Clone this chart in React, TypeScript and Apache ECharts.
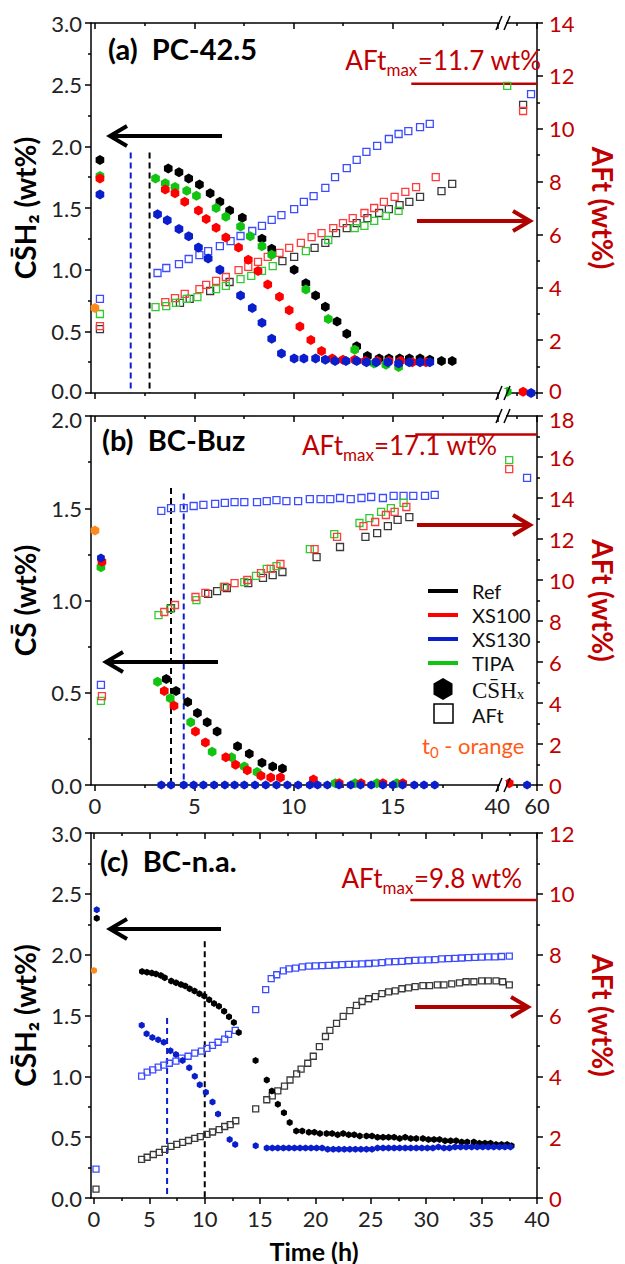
import React, { useEffect, useRef } from "react";
import * as echarts from "echarts";

type Pt = [number, number];

// ---------------- Panel (a) PC-42.5 ----------------
const aT0Csh: Pt[] = [[0, 0.69]];
const aRefCsh: Pt[] = [[0.25,1.89],[3.69,1.82],[4.23,1.79],[4.72,1.74],[5.26,1.69],[5.80,1.62],[6.29,1.55],[6.78,1.48],[7.42,1.42],[8.41,1.25],[8.90,1.17],[10.03,1.00],[10.62,0.89],[11.11,0.79],[11.60,0.70],[12.19,0.58],[12.68,0.48],[13.18,0.38],[13.72,0.30],[14.31,0.28],[14.80,0.28],[15.34,0.28],[15.83,0.28],[16.37,0.28],[16.86,0.27],[17.45,0.26],[17.99,0.26]];
const aXs100Csh: Pt[] = [[0.25,1.74],[3.54,1.65],[4.03,1.62],[4.52,1.55],[5.21,1.48],[5.60,1.41],[6.10,1.34],[6.59,1.26],[7.23,1.18],[7.72,1.08],[8.21,0.99],[8.70,0.88],[9.29,0.78],[9.78,0.67],[10.32,0.54],[10.87,0.43],[11.41,0.34],[11.95,0.28],[12.49,0.27],[13.08,0.27],[13.62,0.26],[14.21,0.26],[14.80,0.26],[15.39,0.26],[15.98,0.25],[16.67,0.25],[53,0.01]];
const aXs130Csh: Pt[] = [[0.25,1.61],[3.15,1.45],[3.64,1.40],[4.23,1.33],[4.72,1.27],[5.21,1.18],[5.70,1.09],[6.29,1.00],[7.33,0.79],[7.92,0.69],[8.41,0.57],[8.90,0.44],[9.39,0.32],[10.03,0.28],[10.52,0.28],[11.11,0.28],[11.60,0.27],[12.09,0.26],[12.64,0.26],[13.18,0.26],[13.67,0.25],[14.16,0.25],[14.75,0.25],[15.29,0.24],[15.83,0.25],[16.37,0.25],[16.86,0.25],[57,0.0]];
const aTipaCsh: Pt[] = [[0.25,1.76],[3.05,1.74],[3.54,1.70],[4.03,1.67],[4.62,1.64],[5.11,1.60],[6.10,1.50],[6.59,1.43],[7.33,1.35],[7.82,1.27],[8.41,1.19],[8.90,1.12],[10.62,0.84],[11.75,0.60],[13.08,0.35],[14.06,0.24],[14.65,0.23],[15.29,0.21],[45,0.01]];
const aRefAft: Pt[] = [[0.25,2.42],[4.28,3.41],[4.77,3.56],[5.80,3.86],[6.78,4.20],[9.44,4.99],[10.03,5.15],[11.06,5.49],[11.60,5.68],[12.14,6.05],[12.68,6.24],[13.18,6.43],[13.72,6.62],[14.31,6.81],[14.80,6.96],[15.34,7.11],[15.83,7.23],[16.37,7.42],[17.45,7.64],[17.99,7.91],[53,10.90]];
const aXs100Aft: Pt[] = [[0.25,2.53],[3.54,3.44],[4.03,3.59],[4.52,3.75],[5.26,3.93],[5.60,4.09],[6.10,4.24],[6.59,4.39],[7.23,4.65],[7.72,4.77],[8.21,4.96],[8.70,5.15],[9.29,5.30],[9.78,5.49],[10.37,5.68],[10.91,5.90],[11.41,6.05],[12.00,6.24],[12.49,6.43],[12.98,6.62],[13.57,6.81],[14.06,7.00],[14.55,7.23],[15.09,7.42],[15.63,7.61],[16.17,7.79],[17.16,8.17],[53,10.67]];
const aXs130Aft: Pt[] = [[0.25,3.56],[3.15,4.54],[3.59,4.73],[4.23,4.88],[4.72,5.07],[5.26,5.22],[5.70,5.37],[6.29,5.56],[6.83,5.75],[7.33,5.94],[7.92,6.13],[8.41,6.32],[8.90,6.55],[9.39,6.73],[10.03,6.96],[10.52,7.23],[11.01,7.45],[11.60,7.76],[12.09,8.17],[12.68,8.51],[13.18,8.82],[13.67,9.12],[14.21,9.35],[14.80,9.61],[15.29,9.80],[15.78,9.91],[16.37,10.06],[16.86,10.18],[57,11.31]];
const aTipaAft: Pt[] = [[0.25,2.99],[3.05,3.25],[3.59,3.29],[4.08,3.41],[4.62,3.56],[5.16,3.63],[6.10,3.93],[6.59,4.05],[7.33,4.31],[7.87,4.43],[8.41,4.62],[8.95,4.80],[10.62,5.37],[11.75,5.79],[13.08,6.24],[13.57,6.32],[14.06,6.51],[14.65,6.70],[15.29,6.89],[45,11.62]];
const aDashXs130: Pt[] = [[1.8,1.95],[1.8,0]];
const aDashRef: Pt[] = [[2.75,1.95],[2.75,0]];
const aAftMax = 11.7;
const aAftMaxFrom = 15.93;

// ---------------- Panel (b) BC-Buz ----------------
const bT0Csh: Pt[] = [[0, 1.38]];
const bRefCsh: Pt[] = [[3.59,0.575],[4.08,0.51],[4.67,0.45],[5.16,0.39],[5.65,0.34],[6.15,0.29],[7.18,0.21],[7.77,0.17],[8.41,0.12],[8.95,0.10],[9.44,0.09]];
const bXs100Csh: Pt[] = [[0.35,1.21],[3.49,0.51],[3.98,0.43],[5.06,0.29],[5.56,0.23],[6.59,0.15],[7.08,0.11],[7.67,0.08],[8.36,0.05],[8.85,0.04],[9.34,0.04],[11.0,0.03],[12.3,0.01],[13.4,0.01],[14.5,0.01],[15.5,0.01],[46,0.01]];
const bXs130Csh: Pt[] = [[0.3,1.23],[3.34,0],[3.83,0],[4.47,0],[4.97,0],[5.46,0],[6.0,0],[6.54,0],[7.03,0],[7.52,0],[8.06,0],[8.6,0],[9.14,0],[9.69,0],[10.23,0],[10.82,0],[11.21,0],[11.70,0],[12.29,0],[12.88,0],[13.37,0],[13.91,0],[14.5,0],[15.0,0],[15.49,0],[16.08,0],[16.57,0],[17.11,0],[55,0]];
const bTipaCsh: Pt[] = [[0.3,1.18],[3.15,0.56],[3.79,0.47],[4.82,0.34],[5.90,0.18],[6.88,0.15],[7.52,0.10],[8.16,0.07],[12.1,0.01],[13.1,0.01],[14.2,0.01],[15.2,0.01]];
const bRefAft: Pt[] = [[3.83,8.63],[5.70,9.32],[6.15,9.46],[6.64,9.61],[7.72,9.85],[8.46,10.10],[8.95,10.24],[9.44,10.39],[11.16,11.12],[12.34,11.61],[13.62,12.10],[14.21,12.29],[14.75,12.63],[15.24,12.93],[15.83,13.07]];
const bXs100Aft: Pt[] = [[0.35,4.34],[3.49,8.44],[4.03,8.78],[5.06,9.17],[5.56,9.37],[6.54,9.66],[7.03,9.85],[7.67,10.0],[8.36,10.34],[8.85,10.54],[9.34,10.78],[11.06,11.51],[12.19,12.10],[13.52,12.63],[14.11,12.83],[14.65,13.17],[15.09,13.32],[15.68,13.56],[46,15.41]];
const bXs130Aft: Pt[] = [[0.3,4.88],[3.34,13.37],[3.83,13.51],[4.47,13.51],[4.97,13.61],[5.46,13.66],[6.05,13.71],[6.54,13.76],[7.03,13.80],[7.52,13.80],[8.16,13.80],[8.65,13.85],[9.14,13.90],[9.64,13.85],[10.23,13.85],[10.82,13.95],[11.36,13.95],[11.85,13.95],[12.34,14.00],[12.88,13.95],[13.42,14.00],[13.91,14.05],[14.50,14.00],[15.04,14.10],[15.54,14.10],[16.03,14.10],[16.62,14.10],[17.11,14.15],[55,14.98]];
const bTipaAft: Pt[] = [[0.3,4.10],[3.2,8.29],[3.79,8.59],[5.11,9.02],[6.49,9.66],[7.52,9.90],[8.11,10.2],[8.65,10.54],[9.14,10.68],[10.82,11.51],[12.05,12.24],[13.32,12.78],[13.82,13.02],[14.41,13.32],[14.90,13.51],[15.54,13.76],[46,15.85]];
const bDashRef: Pt[] = [[3.83,1.61],[3.83,0]];
const bDashXs130: Pt[] = [[4.47,1.58],[4.47,0]];
const bAftMax = 17.1;
const bAftMaxFrom = 16.13;

// ---------------- Panel (c) BC-n.a. ----------------
const cT0Csh: Pt[] = [[0, 1.87]];
const cRefCsh: Pt[] = [[0.25,2.30],[4.34,1.861],[4.78,1.856],[5.22,1.85],[5.60,1.842],[6.04,1.829],[6.39,1.81],[6.97,1.783],[7.41,1.769],[7.85,1.755],[8.24,1.742],[8.64,1.72],[9.08,1.701],[9.52,1.679],[9.96,1.66],[10.40,1.63],[10.84,1.598],[11.28,1.576],[11.75,1.535],[12.19,1.489],[12.63,1.443],[13.07,1.361],[14.59,1.13],[15.6,0.97],[16.06,0.88],[16.6,0.77],[17.15,0.70],[17.67,0.62],[18.26,0.55],[18.8,0.55],[19.4,0.54],[19.9,0.54],[20.4,0.53],[21.0,0.53],[21.5,0.53],[22.0,0.52],[22.5,0.53],[23.0,0.52],[23.5,0.52],[24.0,0.51],[24.6,0.51],[25.1,0.51],[25.6,0.50],[26.1,0.50],[26.6,0.50],[27.1,0.50],[27.6,0.49],[28.1,0.50],[28.6,0.49],[29.1,0.49],[29.7,0.49],[30.2,0.48],[30.7,0.48],[31.2,0.48],[31.7,0.47],[32.2,0.47],[32.7,0.47],[33.2,0.46],[33.7,0.46],[34.3,0.46],[34.8,0.45],[35.3,0.45],[35.8,0.45],[36.3,0.44],[36.8,0.44],[37.3,0.44],[37.7,0.43]];
const cXs130Csh: Pt[] = [[0.25,2.37],[4.31,1.42],[4.75,1.35],[5.27,1.32],[5.8,1.30],[6.3,1.28],[6.9,1.21],[7.4,1.18],[8.0,1.13],[8.6,1.07],[9.1,1.00],[9.55,0.93],[10.1,0.87],[10.7,0.79],[11.2,0.69],[12.25,0.48],[12.75,0.44],[14.6,0.43],[15.6,0.41],[16.1,0.41],[16.6,0.41],[17.1,0.41],[17.6,0.41],[18.1,0.41],[18.6,0.41],[19.1,0.41],[19.6,0.41],[20.1,0.41],[20.6,0.41],[21.1,0.40],[21.6,0.40],[22.1,0.40],[22.6,0.40],[23.1,0.40],[23.6,0.40],[24.1,0.40],[24.6,0.40],[25.1,0.40],[25.6,0.41],[26.1,0.41],[26.6,0.41],[27.1,0.41],[27.6,0.41],[28.1,0.41],[28.6,0.41],[29.1,0.41],[29.6,0.41],[30.1,0.41],[30.6,0.41],[31.1,0.42],[31.6,0.41],[32.1,0.41],[32.6,0.42],[33.1,0.42],[33.6,0.42],[34.1,0.42],[34.6,0.42],[35.1,0.42],[35.6,0.42],[36.1,0.42],[36.6,0.42],[37.1,0.42],[37.6,0.42]];
const cRefAft: Pt[] = [[0.18,0.29],[4.3,1.27],[4.8,1.34],[5.36,1.43],[5.9,1.50],[6.4,1.60],[6.95,1.70],[7.47,1.76],[8.0,1.83],[8.53,1.89],[9.1,1.96],[9.6,2.02],[10.2,2.09],[10.7,2.17],[11.3,2.25],[11.8,2.35],[12.3,2.41],[12.8,2.54],[14.6,2.93],[15.6,3.23],[16.1,3.36],[16.6,3.52],[17.2,3.68],[17.7,3.88],[18.3,4.08],[18.7,4.24],[19.3,4.43],[19.8,4.66],[20.35,4.98],[20.9,5.31],[21.3,5.51],[21.9,5.74],[22.5,5.97],[23.1,6.16],[23.7,6.33],[24.2,6.46],[24.8,6.55],[25.4,6.62],[26.0,6.72],[26.6,6.78],[27.2,6.81],[27.8,6.88],[28.4,6.91],[29.0,6.95],[29.7,6.98],[30.3,6.98],[31.0,7.01],[31.6,7.01],[32.3,7.04],[33.0,7.07],[33.6,7.11],[34.3,7.11],[35.0,7.14],[35.6,7.14],[36.3,7.14],[36.9,7.11],[37.5,7.01]];
const cXs130Aft: Pt[] = [[0.18,0.95],[4.3,4.01],[4.8,4.14],[5.3,4.21],[5.8,4.30],[6.3,4.37],[6.8,4.43],[7.4,4.50],[7.9,4.60],[8.5,4.66],[9.1,4.76],[9.7,4.83],[10.2,4.92],[10.7,5.02],[11.2,5.12],[11.8,5.22],[12.15,5.38],[12.75,5.51],[14.6,6.19],[15.5,6.85],[16.0,7.21],[16.5,7.34],[17.1,7.47],[17.6,7.53],[18.2,7.56],[18.8,7.60],[19.4,7.62],[20.0,7.63],[20.6,7.64],[21.2,7.65],[21.8,7.66],[22.4,7.67],[23.0,7.68],[23.6,7.69],[24.2,7.70],[24.8,7.71],[25.4,7.72],[26.0,7.74],[26.6,7.76],[27.2,7.77],[27.8,7.78],[28.4,7.80],[29.0,7.81],[29.6,7.82],[30.2,7.83],[30.8,7.84],[31.4,7.86],[32.0,7.87],[32.6,7.88],[33.2,7.89],[33.8,7.90],[34.4,7.91],[35.0,7.92],[35.6,7.93],[36.2,7.93],[36.8,7.94],[37.5,7.95]];
const cDashXs130: Pt[] = [[6.6,1.48],[6.6,0]];
const cDashRef: Pt[] = [[10.0,2.11],[10.0,0]];
const cAftMax = 9.8;
const cAftMaxFrom = 28.57;

// ---------------- axis ticks ----------------
const abMajorTimes = [0, 5, 10, 15, 40, 60];
const abMinorTimes = [2.5, 7.5, 12.5, 17.5, 50];
const cMajorTimes = [0, 5, 10, 15, 20, 25, 30, 35, 40];
const cMinorTimes = [2.5, 7.5, 12.5, 17.5, 22.5, 27.5, 32.5, 37.5];

// broken time axis of panels (a) and (b)
const BREAK_FROM = 20;
const BREAK_TO = 40;
const BREAK_AT = 20.26;
const BREAK_SCALE = 0.1;
const tBreak = (t: number) => (t <= BREAK_FROM ? t : BREAK_AT + (t - BREAK_TO) * BREAK_SCALE);
const tBreakInv = (v: number) => (v <= BREAK_FROM + 0.01 ? v : BREAK_TO + (v - BREAK_AT) / BREAK_SCALE);
const tId = (t: number) => t;

const AB_MIN = -0.2;
const AB_MAX = tBreak(60);
const C_MIN = -0.27;
const C_MAX = 40;

const FONT = 'Lato, "Open Sans", sans-serif';
const DARKRED = "#c00000";
const COL = { ref: "#000000", xs100: "#ff0000", xs130: "#0a1ecc", tipa: "#12c412", orange: "#ff8a1c" };
const SQ = { ref: "#3a3a3a", xs100: "#ff3b3b", xs130: "#3b4cff", tipa: "#2ecc2e" };
const HEX = "path://M0,-10L8.66,-5L8.66,5L0,10L-8.66,5L-8.66,-5Z";
const AX = { color: "#000", width: 1.5 };

function hexSeries(data: Pt[], color: string, g: number, size: number, tf: (t: number) => number) {
  return {
    type: "scatter", xAxisIndex: g * 4, yAxisIndex: g * 2, clip: false, z: 3,
    symbol: HEX, symbolKeepAspect: true, symbolSize: size,
    itemStyle: { color, opacity: 1 },
    data: data.map(([t, v]) => [tf(t), v]),
  };
}
function sqSeries(data: Pt[], color: string, g: number, size: number, tf: (t: number) => number) {
  return {
    type: "scatter", xAxisIndex: g * 4, yAxisIndex: g * 2 + 1, clip: false, z: 2,
    symbol: "rect", symbolSize: size,
    itemStyle: { color: "rgba(255,255,255,0)", borderColor: color, borderWidth: 1.3, opacity: 1 },
    data: data.map(([t, v]) => [tf(t), v]),
  };
}
function dashSeries(data: Pt[], color: string, g: number) {
  return {
    type: "line", xAxisIndex: g * 4, yAxisIndex: g * 2, symbol: "none", z: 1,
    lineStyle: { color, width: 2, type: [6, 4] }, data,
  };
}
function aftMaxSeries(v: number, from: number, to: number, g: number) {
  return {
    type: "line", xAxisIndex: g * 4, yAxisIndex: g * 2 + 1, symbol: "none", z: 1,
    lineStyle: { color: DARKRED, width: 2.5 }, data: [[from, v], [to, v]],
  };
}

function xAxesFor(g: number, min: number, max: number, majors: number[], minors: number[], showLabels: boolean, fmt: (v: number) => string, name: string) {
  const common = { gridIndex: g, type: "value", min, max, splitLine: { show: false } };
  return [
    {
      ...common, position: "bottom",
      axisLine: { show: true, onZero: false, lineStyle: AX },
      axisTick: { show: true, customValues: majors, length: 6, lineStyle: AX },
      axisLabel: { show: showLabels, customValues: majors, formatter: fmt, fontSize: 22, lineHeight: 20, fontFamily: FONT, color: "#222", margin: 10 },
      name, nameLocation: "middle", nameGap: 40,
      nameTextStyle: { fontSize: 25, fontWeight: "bold", fontFamily: FONT, color: "#000" },
    },
    {
      ...common, position: "top",
      axisLine: { show: true, onZero: false, lineStyle: AX },
      axisTick: { show: true, inside: true, customValues: majors, length: 6, lineStyle: AX },
      axisLabel: { show: false },
    },
    {
      ...common, position: "bottom",
      axisLine: { show: false, onZero: false },
      axisTick: { show: true, customValues: minors, length: 3, lineStyle: AX },
      axisLabel: { show: false },
    },
    {
      ...common, position: "top",
      axisLine: { show: false, onZero: false },
      axisTick: { show: true, inside: true, customValues: minors, length: 3, lineStyle: AX },
      axisLabel: { show: false },
    },
  ];
}

// shift: 'lo' nudges the 0 label up, 'hi' nudges the top label down (panels touch)
function yAxesFor(g: number, lmax: number, rmax: number, lname: string, shift: "lo" | "hi" | "") {
  const rich = { lo: { padding: [0, 0, 6, 0] }, hi: { padding: [6, 0, 0, 0] } };
  const wrap = (v: number, max: number, s: string) => {
    if (shift === "lo" && v === 0) return `{lo|${s}}`;
    if (shift === "hi" && Math.abs(v - max) < 1e-9) return `{hi|${s}}`;
    return s;
  };
  return [
    {
      gridIndex: g, type: "value", position: "left", min: 0, max: lmax, interval: 0.5,
      axisLine: { show: true, onZero: false, lineStyle: AX },
      axisTick: { show: true, length: 6, lineStyle: AX },
      minorTick: { show: true, splitNumber: 2, length: 3, lineStyle: AX },
      axisLabel: { fontSize: 22, lineHeight: 18, fontFamily: FONT, color: "#222", margin: 9, rich, formatter: (v: number) => wrap(v, lmax, v.toFixed(1)) },
      splitLine: { show: false },
      name: lname, nameLocation: "middle", nameGap: 52, nameRotate: 90,
      nameTextStyle: { fontSize: 28, lineHeight: 28, fontWeight: "bold", fontFamily: FONT, color: "#000" },
    },
    {
      gridIndex: g, type: "value", position: "right", min: 0, max: rmax, interval: 2,
      axisLine: { show: true, onZero: false, lineStyle: AX },
      axisTick: { show: true, length: 6, lineStyle: AX },
      minorTick: { show: true, splitNumber: 2, length: 3, lineStyle: AX },
      axisLabel: { fontSize: 22, lineHeight: 18, fontFamily: FONT, color: DARKRED, margin: 12, rich, formatter: (v: number) => wrap(v, rmax, String(v)) },
      splitLine: { show: false },
      name: "AFt (wt%)", nameLocation: "middle", nameGap: 52, nameRotate: -90,
      nameTextStyle: { fontSize: 28, lineHeight: 28, fontWeight: "bold", fontFamily: FONT, color: DARKRED },
    },
  ];
}

function arrow(tail: number, tip: number, y: number, color: string) {
  const d = tip < tail ? 1 : -1;
  return [
    { type: "line", shape: { x1: tail, y1: y, x2: tip + d * 2, y2: y }, style: { stroke: color, lineWidth: 4 }, z: 50 },
    { type: "polyline", shape: { points: [[tip + d * 17, y - 10], [tip, y], [tip + d * 17, y + 10]] }, style: { stroke: color, lineWidth: 4, fill: null }, z: 50 },
  ];
}
function brk(x: number, y: number) {
  return [
    { type: "rect", shape: { x: x - 3, y: y - 4, width: 6, height: 8 }, style: { fill: "#fff" }, z: 100 },
    { type: "line", shape: { x1: x - 7, y1: y + 7, x2: x - 1, y2: y - 7 }, style: { stroke: "#000", lineWidth: 1.5 }, z: 101 },
    { type: "line", shape: { x1: x + 1, y1: y + 7, x2: x + 7, y2: y - 7 }, style: { stroke: "#000", lineWidth: 1.5 }, z: 101 },
  ];
}
function title(x: number, y: number, text: string) {
  return { type: "text", x, y, z: 60, style: { text, font: `bold 29px ${FONT}`, fill: "#000", verticalAlign: "middle", align: "left" } };
}
function aftMaxText(x: number, y: number, val: string, align: string) {
  return {
    type: "text", x, y, z: 60,
    style: {
      text: `{a|AFt}{s|max}{a|=${val} wt%}`, align, verticalAlign: "middle",
      rich: {
        a: { fontSize: 26, fontFamily: FONT, fill: DARKRED, color: DARKRED, lineHeight: 36, verticalAlign: "middle" },
        s: { fontSize: 17, fontFamily: FONT, fill: DARKRED, color: DARKRED, lineHeight: 17, verticalAlign: "bottom" },
      },
    },
  };
}
function hexagon(cx: number, cy: number, r: number) {
  const k = 0.866 * r;
  return {
    type: "polygon", z: 60,
    shape: { points: [[cx, cy - r], [cx + k, cy - r / 2], [cx + k, cy + r / 2], [cx, cy + r], [cx - k, cy + r / 2], [cx - k, cy - r / 2]] },
    style: { fill: "#000" },
  };
}

function legend() {
  const rows: [string, string, number][] = [["Ref", COL.ref, 591], ["XS100", COL.xs100, 615], ["XS130", COL.xs130, 639], ["TIPA", COL.tipa, 663]];
  const els: any[] = [];
  rows.forEach(([label, color, y]) => {
    els.push({ type: "line", shape: { x1: 428, y1: y, x2: 458, y2: y }, style: { stroke: color, lineWidth: 4 }, z: 60 });
    els.push({ type: "text", x: 472, y, z: 60, style: { text: label, font: `20px ${FONT}`, fill: "#111", verticalAlign: "middle" } });
  });
  els.push(hexagon(443, 689, 11));
  els.push({
    type: "text", x: 472, y: 690, z: 60,
    style: {
      text: "{a|CS\u0304H}{s|x}", verticalAlign: "middle",
      rich: {
        a: { fontSize: 23, fontFamily: '"Liberation Serif", serif', fill: "#111", lineHeight: 22, verticalAlign: "middle" },
        s: { fontSize: 15, fontFamily: '"Liberation Serif", serif', fill: "#111", lineHeight: 12, verticalAlign: "bottom" },
      },
    },
  });
  els.push({ type: "rect", shape: { x: 434, y: 704, width: 19, height: 19 }, style: { fill: "#fff", stroke: "#000", lineWidth: 1.5 }, z: 60 });
  els.push({ type: "text", x: 472, y: 715, z: 60, style: { text: "AFt", font: `20px ${FONT}`, fill: "#111", verticalAlign: "middle" } });
  els.push({
    type: "text", x: 422, y: 745, z: 60,
    style: {
      text: "{a|t}{s|0}{a| - orange}", verticalAlign: "middle",
      rich: {
        a: { fontSize: 22, fontFamily: FONT, fill: "#ff5a14", lineHeight: 28, verticalAlign: "middle" },
        s: { fontSize: 15, fontFamily: FONT, fill: "#ff5a14", lineHeight: 14, verticalAlign: "bottom" },
      },
    },
  });
  return els;
}

function buildOption() {
  const abFmt = (v: number) => String(Math.round(tBreakInv(v)));
  const cFmt = (v: number) => String(Math.round(v));
  const abMaj = abMajorTimes.map(tBreak);
  const abMin = abMinorTimes.map(tBreak);

  const xAxis = [
    ...xAxesFor(0, AB_MIN, AB_MAX, abMaj, abMin, false, abFmt, ""),
    ...xAxesFor(1, AB_MIN, AB_MAX, abMaj, abMin, true, abFmt, ""),
    ...xAxesFor(2, C_MIN, C_MAX, cMajorTimes, cMinorTimes, true, cFmt, "Time (h)"),
  ];
  const yAxis = [
    ...yAxesFor(0, 3, 14, "CS\u0304H\u2082 (wt%)", "lo"),
    ...yAxesFor(1, 2, 18, "CS\u0304 (wt%)", "hi"),
    ...yAxesFor(2, 3, 12, "CS\u0304H\u2082 (wt%)", ""),
  ];

  const series: any[] = [
    // (a)
    dashSeries(aDashXs130, COL.xs130, 0),
    dashSeries(aDashRef, COL.ref, 0),
    aftMaxSeries(aAftMax, aAftMaxFrom, AB_MAX, 0),
    sqSeries(aRefAft, SQ.ref, 0, 7, tBreak),
    sqSeries(aXs100Aft, SQ.xs100, 0, 7, tBreak),
    sqSeries(aXs130Aft, SQ.xs130, 0, 7, tBreak),
    sqSeries(aTipaAft, SQ.tipa, 0, 7, tBreak),
    hexSeries(aRefCsh, COL.ref, 0, 10, tBreak),
    hexSeries(aTipaCsh, COL.tipa, 0, 10, tBreak),
    hexSeries(aXs100Csh, COL.xs100, 0, 10, tBreak),
    hexSeries(aXs130Csh, COL.xs130, 0, 10, tBreak),
    hexSeries(aT0Csh, COL.orange, 0, 10, tBreak),
    // (b)
    dashSeries(bDashRef, COL.ref, 1),
    dashSeries(bDashXs130, COL.xs130, 1),
    aftMaxSeries(bAftMax, bAftMaxFrom, AB_MAX, 1),
    sqSeries(bRefAft, SQ.ref, 1, 7, tBreak),
    sqSeries(bXs130Aft, SQ.xs130, 1, 7, tBreak),
    sqSeries(bTipaAft, SQ.tipa, 1, 7, tBreak),
    sqSeries(bXs100Aft, SQ.xs100, 1, 7, tBreak),
    hexSeries(bRefCsh, COL.ref, 1, 10, tBreak),
    hexSeries(bTipaCsh, COL.tipa, 1, 10, tBreak),
    hexSeries(bXs100Csh, COL.xs100, 1, 10, tBreak),
    hexSeries(bXs130Csh, COL.xs130, 1, 9, tBreak),
    hexSeries(bT0Csh, COL.orange, 1, 10, tBreak),
    // (c)
    dashSeries(cDashXs130, COL.xs130, 2),
    dashSeries(cDashRef, COL.ref, 2),
    aftMaxSeries(cAftMax, cAftMaxFrom, C_MAX, 2),
    sqSeries(cRefAft, SQ.ref, 2, 6, tId),
    sqSeries(cXs130Aft, SQ.xs130, 2, 6, tId),
    hexSeries(cRefCsh, COL.ref, 2, 7, tId),
    hexSeries(cXs130Csh, COL.xs130, 2, 7, tId),
    hexSeries(cT0Csh, COL.orange, 2, 7, tId),
  ];

  const graphics: any[] = [
    title(108, 48, "(a)  PC-42.5"),
    title(102, 439, "(b)  BC-Buz"),
    title(100, 860, "(c)  BC-n.a."),
    aftMaxText(541, 60, "11.7", "right"),
    aftMaxText(302, 445, "17.1", "left"),
    aftMaxText(522, 878, "9.8", "right"),
    ...arrow(222, 110, 136, "#000"),
    ...arrow(417, 530, 221, "#b00000"),
    ...arrow(218, 106, 662, "#000"),
    ...arrow(417, 530, 525, "#b00000"),
    ...arrow(221, 110, 929, "#000"),
    ...arrow(415, 528, 1007, "#b00000"),
    ...brk(503, 23),
    ...brk(503, 393),
    ...brk(503, 416),
    ...brk(503, 785),
    ...legend(),
  ];

  return {
    animation: false,
    backgroundColor: "#fff",
    grid: [
      { left: 91, right: 77, top: 23, height: 370 },
      { left: 91, right: 77, top: 416, height: 369 },
      { left: 91, right: 76, top: 833, height: 368 },
    ],
    xAxis,
    yAxis,
    series,
    graphic: { elements: graphics },
  };
}

export default function App() {
  const ref = useRef<HTMLDivElement>(null);
  useEffect(() => {
    const chart = echarts.init(ref.current!, null, { renderer: "svg" });
    chart.setOption(buildOption() as any);
    return () => chart.dispose();
  }, []);
  return (
    <div
      ref={ref}
      style={{ position: "absolute", left: 0, top: 0, width: 625, height: 1264, background: "#fff" }}
    />
  );
}
